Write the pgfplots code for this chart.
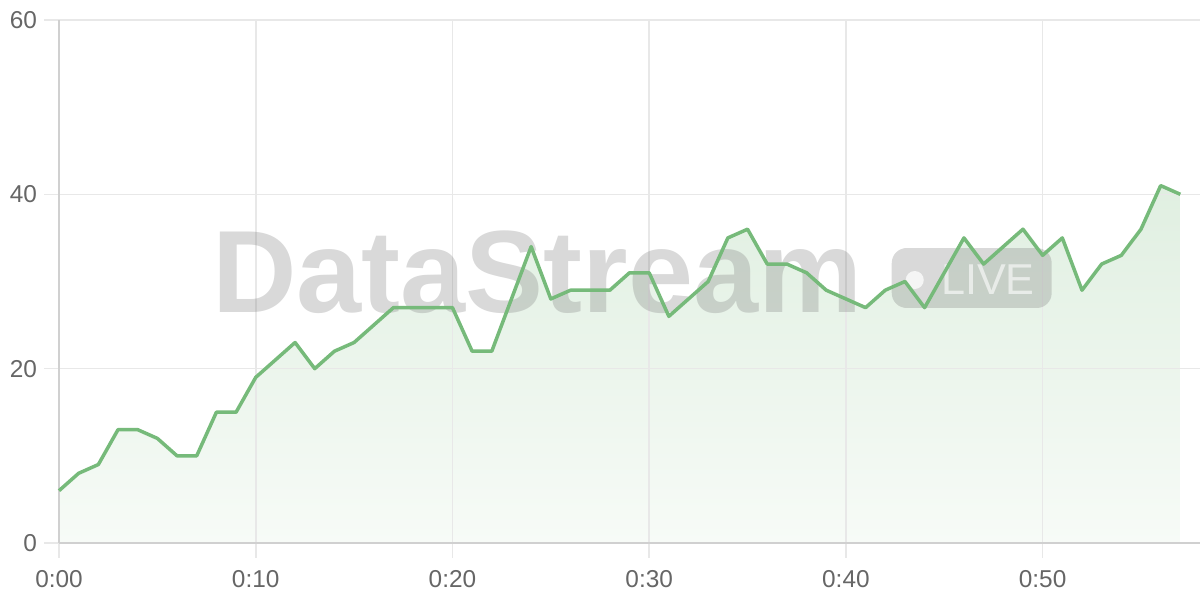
\documentclass[border=0pt]{standalone}
\usepackage{pgfplots}
\usepackage{pgfplotstable}
\pgfplotsset{compat=1.18}
\usepackage{fontspec}
\setmainfont{Liberation Sans}
\definecolor{linegreen}{RGB}{118,186,122}
\definecolor{fillTop}{RGB}{224,239,225}
\definecolor{fillBot}{RGB}{247,251,247}
\definecolor{gridgray}{RGB}{232,232,232}
\definecolor{axisgray}{RGB}{208,208,208}
\definecolor{labelgray}{RGB}{102,102,102}
\pgfplotstableread{
x y
0 6
1 8
2 9
3 13
4 13
5 12
6 10
7 10
8 15
9 15
10 19
11 21
12 23
13 20
14 22
15 23
16 25
17 27
18 27
19 27
20 27
21 22
22 22
23 28
24 34
25 28
26 29
27 29
28 29
29 31
30 31
31 26
32 28
33 30
34 35
35 36
36 32
37 32
38 31
39 29
40 28
41 27
42 29
43 30
44 27
45 31
46 35
47 32
48 34
49 36
50 33
51 35
52 29
53 32
54 33
55 36
56 41
57 40
}\datatable
\begin{document}
\begin{tikzpicture}
\begin{axis}[
  name=ax,
  set layers,
  scale only axis,
  width=570.5pt, height=261.5pt,
  xmin=0, xmax=58, ymin=0, ymax=60,
  axis x line*=bottom, axis y line*=left,
  axis line style={-, draw=axisgray, line width=0.9pt},
  xtick={0,10,20,30,40,50},
  xticklabels={0:00,0:10,0:20,0:30,0:40,0:50},
  ytick={0,20,40,60},
  xtick pos=bottom, ytick pos=left,
  grid=major,
  major grid style={draw=gridgray, line width=0.8pt},
  tick align=outside,
  major tick length=7.5pt,
  every tick/.style={draw=gridgray, line width=0.8pt},
  tick label style={text=labelgray, font=\fontsize{12.2}{14}\selectfont},
  xticklabel style={yshift=-2.5pt},
  /pgf/number format/assume math mode=true,
  clip=false,
]
\addplot[draw=none, top color=fillTop, bottom color=fillBot, on layer=axis background] table[x=x,y=y] {\datatable} \closedcycle;
\node[anchor=base west, inner sep=0, text=black!50, opacity=0.3,
  font=\fontsize{58.5}{60}\selectfont\bfseries] at (axis cs:7.77,26.39) {DataStream};
\fill[black!50, opacity=0.3, rounded corners=7.5pt] (axis cs:42.33,26.96) rectangle (axis cs:50.46,33.84);
\fill[white, opacity=0.75] (axis cs:43.5,30.17) circle[radius=4.5pt];
\node[anchor=base west, inner sep=0, text=white, opacity=0.6,
  font=\fontsize{21.6}{22}\selectfont] at (axis cs:44.82,28.56) {LIVE};
\addplot[linegreen, line width=1.75pt, line join=round, on layer=axis foreground] table[x=x,y=y] {\datatable};
\end{axis}
\pgfresetboundingbox
\path[use as bounding box] ([xshift=-29.5pt,yshift=-28.5pt]ax.south west) rectangle ([yshift=10pt]ax.north east);
\end{tikzpicture}
\end{document}
